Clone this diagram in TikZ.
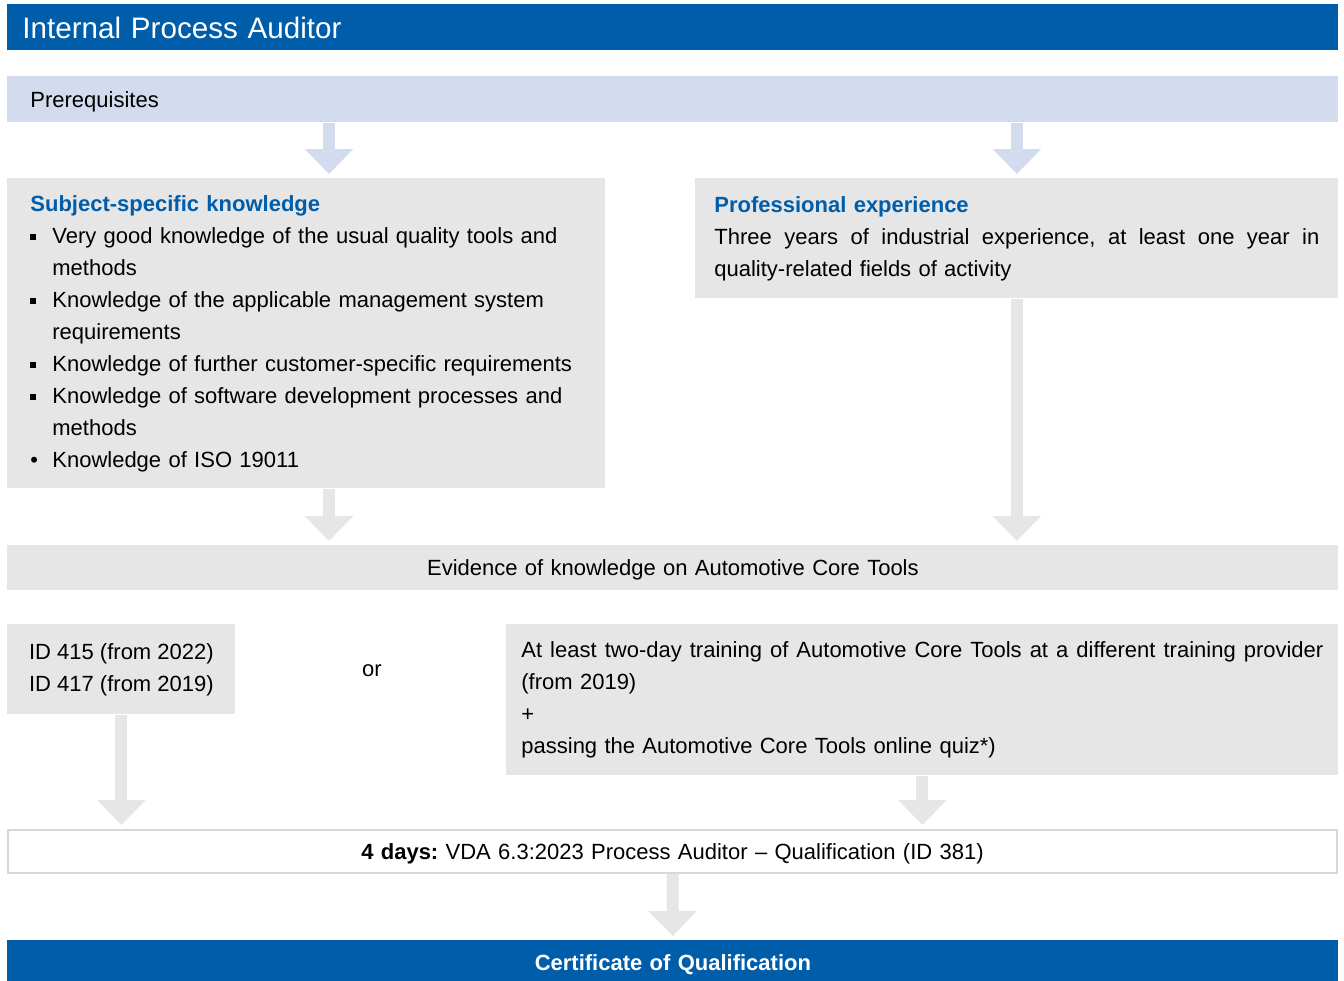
\documentclass[tikz,border=0pt]{standalone}
\usepackage{fontspec}
\setmainfont{Liberation Sans}
\usetikzlibrary{calc,arrows.meta}

\definecolor{titleblue}{RGB}{0,93,170}
\definecolor{prereqblue}{RGB}{211,220,238}
\definecolor{boxgray}{RGB}{230,230,230}
\definecolor{framegray}{RGB}{215,215,215}

\frenchspacing
\newcommand{\bodyfont}{\fontsize{11}{16}\selectfont}
\newcommand{\sqbullet}{\makebox[11pt][l]{\rule[1.7pt]{2.6pt}{2.6pt}}}
\newcommand{\dotbullet}{\makebox[11pt][l]{\textbullet}}
\newcommand{\fullline}[2]{\makebox[#1][s]{\spaceskip=0pt\xspaceskip=0pt #2}}

\tikzset{
  bar/.style={anchor=north west, minimum width=665.5pt, minimum height=22.5pt,
    inner sep=0pt, text height=8pt, text depth=0pt, font=\bodyfont},
  textbox/.style={anchor=north west, fill=boxgray, inner sep=0pt, align=left, font=\bodyfont},
  lightarrow/.style={draw=prereqblue, line width=6pt,
    -{Triangle[width=23.5pt,length=12.5pt]}, shorten >=2pt},
  grayarrow/.style={lightarrow, draw=boxgray}
}

\begin{document}
\begin{tikzpicture}[x=0.5pt, y=-0.5pt]

% Define the page frame
\useasboundingbox (0,0) rectangle (1344,980);
\fill[white] (0,0) rectangle (1344,980);

% Title and prerequisites bars
\node[bar, fill=titleblue, text=white, minimum height=23pt, text width=650.5pt, align=left,
  font=\fontsize{14.8}{18}\selectfont, text height=10.6pt] (title) at (7,4) {Internal Process Auditor};
\node[bar, fill=prereqblue, minimum height=23pt, text width=642.5pt, align=left] (prereq) at (7,76) {Prerequisites};

% Knowledge and experience boxes
\node[textbox, minimum width=299pt, minimum height=155pt, text width=276pt] (subj) at (7,178) {%
  \textcolor{titleblue}{\textbf{Subject-specific knowledge}}\\
  \sqbullet Very good knowledge of the usual quality tools and\\
  \hspace*{11pt}methods\\
  \sqbullet Knowledge of the applicable management system\\
  \hspace*{11pt}requirements\\
  \sqbullet Knowledge of further customer-specific requirements\\
  \sqbullet Knowledge of software development processes and\\
  \hspace*{11pt}methods\\
  \dotbullet Knowledge of ISO 19011};
\node[textbox, minimum width=321.5pt, minimum height=60pt, text width=302.5pt] (prof) at (695,178) {%
  \textcolor{titleblue}{\textbf{Professional experience}}\\
  \fullline{302.5pt}{Three years of industrial experience, at least one year in}\\
  quality-related fields of activity};

% Evidence of core tools
\node[bar, fill=boxgray, text width=665.5pt, align=center] (evid) at (7,545) {Evidence of knowledge on Automotive Core Tools};
\node[textbox, minimum width=114pt, minimum height=45pt] (idbox) at (7,624) {ID 415 (from 2022)\\ID 417 (from 2019)};
\node[font=\bodyfont] (or) at (372,671) {or};
\node[textbox, minimum width=416pt, minimum height=75.5pt, text width=401pt] (train) at (506,624) {%
  \fullline{401pt}{At least two-day training of Automotive Core Tools at a different training provider}\\
  (from 2019)\\
  +\\
  passing the Automotive Core Tools online quiz*)};

% Qualification and certificate
\node[bar, fill=white, draw=framegray, line width=1pt, minimum width=664.5pt, minimum height=21.5pt,
  text width=660pt, align=center] (qual) at (7,829) {\textbf{4 days:} VDA 6.3:2023 Process Auditor -- Qualification (ID 381)};
\node[bar, fill=titleblue, text=white, text width=665.5pt, align=center] (cert) at (7,940) {\textbf{Certificate of Qualification}};

% Arrows
\coordinate (lx) at (329,0);
\draw[lightarrow] (prereq.south -| lx) -- (subj.north -| lx);
\draw[lightarrow] (prereq.south -| prof.north) -- (prof.north);
\draw[grayarrow] (subj.south -| lx) -- (evid.north -| lx);
\draw[grayarrow] (prof.south) -- (evid.north -| prof.south);
\draw[grayarrow] (idbox.south) -- (qual.north -| idbox.south);
\draw[grayarrow] (train.south) -- (qual.north -| train.south);
\draw[grayarrow] (qual.south) -- (cert.north);

\end{tikzpicture}
\end{document}
